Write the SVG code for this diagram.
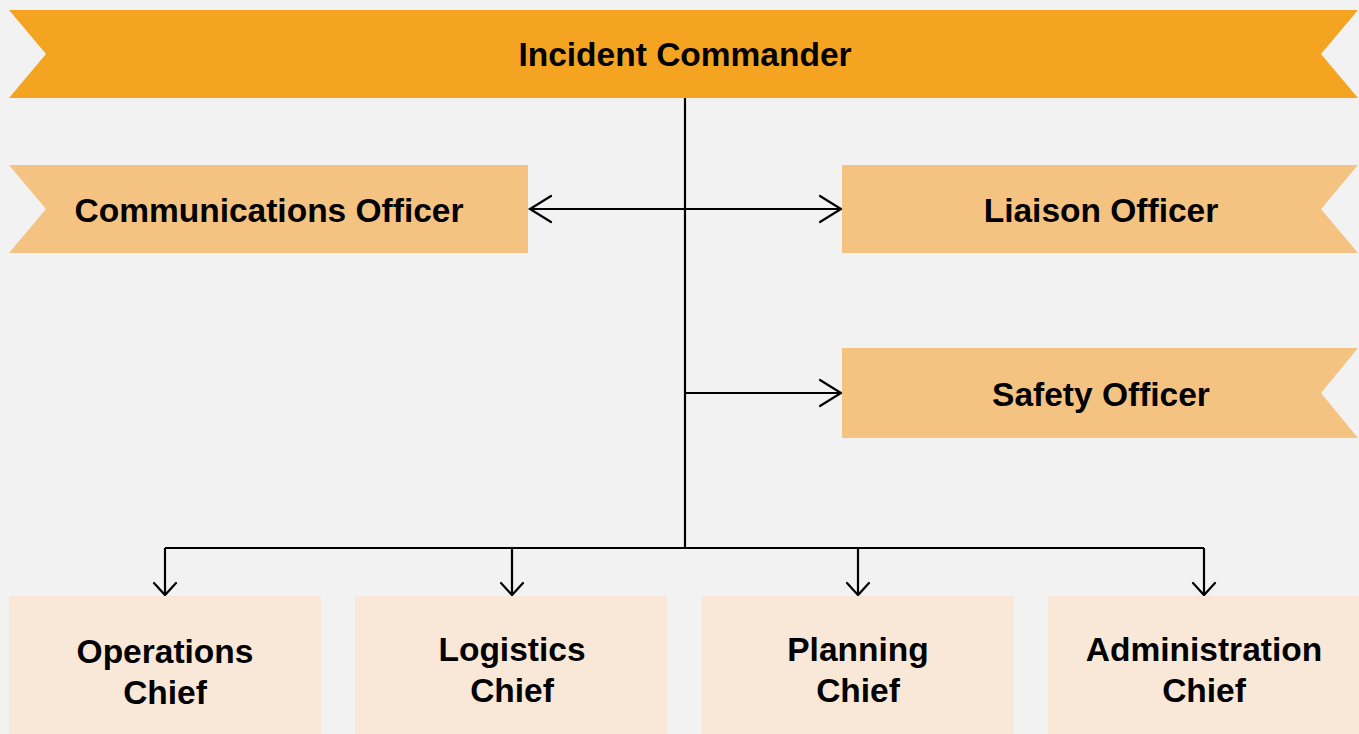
<svg xmlns="http://www.w3.org/2000/svg" width="1359" height="734" viewBox="0 0 1359 734">
<style>
.t{font-family:"Liberation Sans",Arial,sans-serif;font-weight:bold;font-size:33.5px;fill:#000;text-anchor:middle}
.c{fill:none;stroke:#000;stroke-width:2.2}
.a{fill:none;stroke:#000;stroke-width:2.2;stroke-linecap:round;stroke-linejoin:miter}
</style>
<rect width="1359" height="734" fill="#f2f2f2"/>
<g id="connectors">
<path class="c" d="M685 98V548M165 548H1204M165 548V594M512 548V594M858 548V594M1204 548V594M530 209H840M685 393H840"/>
<path class="a" d="M551 196L530 209L551 222M820 196L841 209L820 222M820 380L841 393L820 406"/>
<path class="a" d="M154 583L165 595L176 583M501 583L512 595L523 583M847 583L858 595L869 583M1193 583L1204 595L1215 583"/>
</g>
<g id="incident-commander">
<polygon points="9,10 1358,10 1321,54 1358,98 9,98 46,54" fill="#f5a421"/>
<text class="t" x="685" y="66">Incident Commander</text>
</g>
<g id="communications-officer">
<polygon points="9,165 528,165 528,253 9,253 46,209" fill="#f5c381"/>
<text class="t" x="269" y="222">Communications Officer</text>
</g>
<g id="liaison-officer">
<polygon points="842,165 1358,165 1321,209 1358,253 842,253" fill="#f5c381"/>
<text class="t" x="1101" y="222">Liaison Officer</text>
</g>
<g id="safety-officer">
<polygon points="842,348 1358,348 1321,393 1358,438 842,438" fill="#f5c381"/>
<text class="t" x="1101" y="406">Safety Officer</text>
</g>
<g id="operations-chief">
<rect x="9" y="596" width="312" height="138" fill="#f9e7d8"/>
<text class="t" x="165" y="663">Operations</text>
<text class="t" x="165" y="704">Chief</text>
</g>
<g id="logistics-chief">
<rect x="355" y="596" width="312" height="138" fill="#f9e7d8"/>
<text class="t" x="512" y="661">Logistics</text>
<text class="t" x="512" y="702">Chief</text>
</g>
<g id="planning-chief">
<rect x="702" y="596" width="312" height="138" fill="#f9e7d8"/>
<text class="t" x="858" y="661">Planning</text>
<text class="t" x="858" y="702">Chief</text>
</g>
<g id="administration-chief">
<rect x="1048" y="596" width="311" height="138" fill="#f9e7d8"/>
<text class="t" x="1204" y="661">Administration</text>
<text class="t" x="1204" y="702">Chief</text>
</g>
</svg>
